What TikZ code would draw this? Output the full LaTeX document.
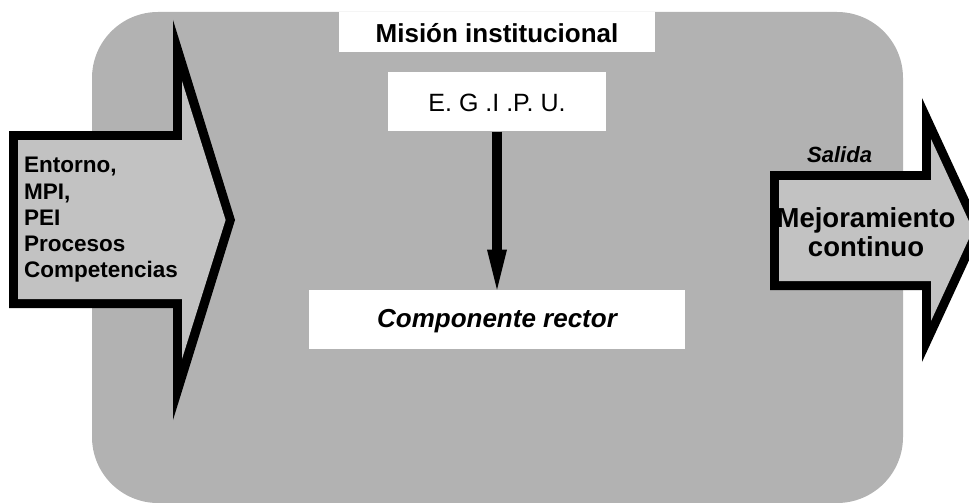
\documentclass[tikz,border=0pt]{standalone}
\usepackage{fontspec}
\setmainfont{Liberation Sans}
\usepackage{tikz}
\usetikzlibrary{
  arrows.meta, positioning, calc
}
\usepackage{xcolor}
\definecolor{panelgray}{RGB}{178,178,178}
\definecolor{arrowgray}{RGB}{194,194,194}
\tikzset{
  panel/.style={fill=panelgray, rounded corners=66pt},
  label box/.style={
    rectangle, fill=white, inner sep=0pt,
    text height=#1, text depth=0pt, align=center
  },
  big arrow/.style={fill=black},
  big arrow inner/.style={fill=arrowgray},
  arrow/.style={-{Triangle[width=20pt,length=40pt,line width=0pt]}, line width=10pt, draw=black},
  side text/.style={inner sep=0pt, font=\fontsize{22.5}{26.25}\selectfont\bfseries}
}

\begin{document}
\begin{tikzpicture}[x=1pt, y=-1pt]
  \useasboundingbox (0,0) rectangle (969,503);
  \clip (0,0) rectangle (969,503);
  \fill[panel] (92,12) rectangle (903,503);

  \fill[big arrow] (9,131) -- (173,131) -- (173,20) -- (235,220)
    -- (173,420) -- (173,308) -- (9,308) -- cycle;
  \fill[big arrow inner] (18,140) -- (182,140) -- (182,81) -- (225.6,220)
    -- (182,359) -- (182,299) -- (18,299) -- cycle;

  \fill[big arrow] (770,171) -- (922,171) -- (922,98) -- (983,230)
    -- (922,362) -- (922,290) -- (770,290) -- cycle;
  \fill[big arrow inner] (779,180) -- (931,180) -- (931,139) -- (973,230)
    -- (931,321) -- (931,281) -- (779,281) -- cycle;

  \node[label box=22pt, minimum width=316pt, minimum height=40pt,
    font=\fontsize{26}{30}\selectfont\bfseries] (mision) at (497,32) {Misión institucional};
  \node[label box=19pt, minimum width=218pt, minimum height=59pt,
    font=\fontsize{25}{30}\selectfont, below=20pt of mision] (egipu) {E. G .I .P. U.};
  \node[label box=17pt, minimum width=376pt, minimum height=59pt,
    font=\fontsize{26}{30}\selectfont\bfseries\itshape, below=158pt of egipu] (rector) {Componente rector};

  \draw[arrow] (egipu) -- (rector);

  \node[side text, align=left, anchor=west] (entrada) at (24,220)
    {Entorno,\\MPI,\\PEI\\Procesos\\Competencias};
  \node[inner sep=0pt, align=center, font=\fontsize{27.5}{29}\selectfont\bfseries]
    (mejora) at (866,232) {Mejoramiento\\continuo};
  \node[inner sep=0pt, anchor=base west, font=\fontsize{22}{26}\selectfont\bfseries\itshape]
    (salida) at (807,162) {Salida};
\end{tikzpicture}
\end{document}
